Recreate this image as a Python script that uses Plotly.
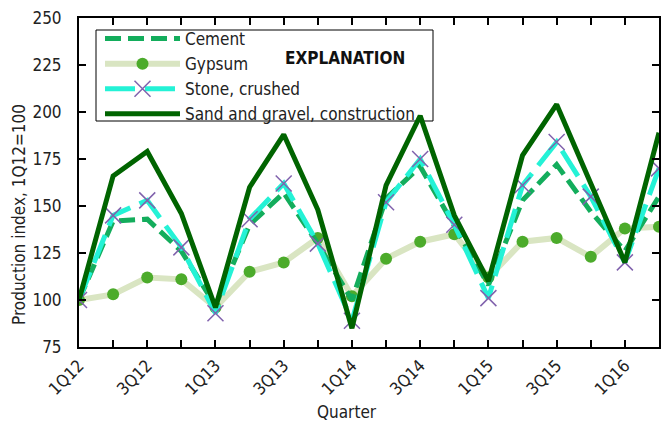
import plotly.graph_objects as go

quarters = ["1Q12","2Q12","3Q12","4Q12","1Q13","2Q13","3Q13","4Q13",
            "1Q14","2Q14","3Q14","4Q14","1Q15","2Q15","3Q15","4Q15","1Q16","2Q16"]
cement = [100,142,143,126,97,140,157,130,100,154,171,140,108,153,172,147,126,155]
gypsum = [100,103,112,111,96,115,120,133,102,122,131,135,112,131,133,123,138,139]
stone = [100,145,153,128,93,143,162,130,89,152,175,140,101,161,184,155,120,170]
sand = [100,166,179,146,96,160,188,148,85,161,198,145,110,177,204,162,120,189]

x = list(range(len(quarters)))
ticktext = [q if i % 2 == 0 else "" for i, q in enumerate(quarters)]
yticks = [75,100,125,150,175,200,225,250]

FONT = "Liberation Sans Narrow, Arial Narrow, DejaVu Sans Condensed, sans-serif"

# plot area in pixels
L, R, T, B = 79, 659, 18, 347
def px(xp): return (xp - L) / (R - L)
def py(yp): return (B - yp) / (B - T)

fig = go.Figure()
fig.add_trace(go.Scatter(x=x, y=gypsum, name="Gypsum", mode="lines+markers",
                         line=dict(color="#d9e5c2", width=6),
                         marker=dict(color="#4cab2b", size=12), legendrank=2))
fig.add_trace(go.Scatter(x=x, y=cement, name="Cement", mode="lines",
                         line=dict(color="#13ad5c", width=5, dash="16px,7px"), legendrank=1))
fig.add_trace(go.Scatter(x=x, y=stone, name="Stone, crushed", mode="lines+markers",
                         line=dict(color="#24f2d6", width=5, dash="30px,10px"),
                         marker=dict(symbol="x-thin-open", size=16, color="#8062ad",
                                     line=dict(color="#8062ad", width=1.5)), legendrank=3))
fig.add_trace(go.Scatter(x=x, y=sand, name="Sand and gravel, construction", mode="lines",
                         line=dict(color="#006400", width=5), legendrank=4))

fig.update_layout(
    width=661, height=421,
    margin=dict(l=L, r=661 - R, t=T, b=421 - B),
    paper_bgcolor="white", plot_bgcolor="white",
    font=dict(family=FONT, size=17, color="#222"),
    showlegend=True,
    legend=dict(x=px(100), y=py(21), xanchor="left", yanchor="top",
                bgcolor="rgba(0,0,0,0)", borderwidth=0,
                font=dict(family=FONT, size=17, color="#222"),
                itemwidth=75, tracegroupgap=0, traceorder="normal"),
    shapes=[dict(type="rect", xref="paper", yref="paper",
                 x0=px(96), x1=px(433), y0=py(121), y1=py(30),
                 line=dict(color="black", width=1), fillcolor="white", layer="below")],
)
fig.add_annotation(text="<b>EXPLANATION</b>", x=px(345), y=py(58), xref="paper", yref="paper",
                   xanchor="center", yanchor="middle", showarrow=False,
                   font=dict(family=FONT, size=17, color="#111"))
fig.add_annotation(text="Quarter", x=px(347), y=py(412), xref="paper", yref="paper",
                   xanchor="center", yanchor="middle", showarrow=False,
                   font=dict(family=FONT, size=17, color="#222"))
fig.add_annotation(text="Production index, 1Q12=100", x=px(19), y=py(215), xref="paper", yref="paper",
                   xanchor="center", yanchor="middle", showarrow=False, textangle=-90,
                   font=dict(family=FONT, size=17, color="#222"))

fig.update_xaxes(range=[0, 17], tickmode="array", tickvals=x, ticktext=ticktext,
                 tickangle=-45, showline=True, linecolor="black", linewidth=2,
                 mirror="ticks", ticks="inside", ticklen=7, tickwidth=2, tickcolor="black",
                 showgrid=False, zeroline=False, automargin=False,
                 tickfont=dict(size=17))
fig.update_yaxes(range=[75, 250], tickmode="array", tickvals=yticks,
                 showline=True, linecolor="black", linewidth=2,
                 mirror="ticks", ticks="inside", ticklen=7, tickwidth=2, tickcolor="black",
                 showgrid=False, zeroline=False, automargin=False,
                 ticklabelstandoff=12, tickfont=dict(size=17))

fig.write_html("out.html", config={"displayModeBar": False},
               post_script="document.body.style.margin='0';document.body.style.padding='0';")
